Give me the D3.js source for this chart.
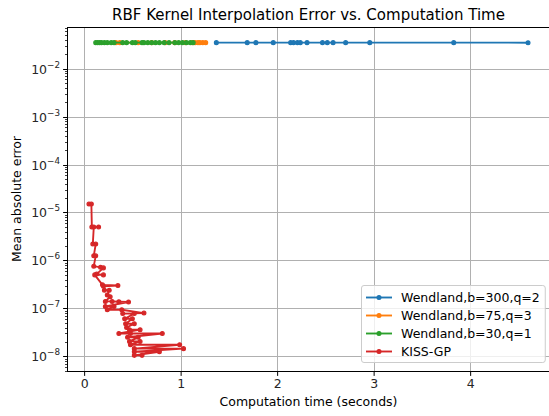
<!DOCTYPE html>
<html>
<head>
<meta charset="utf-8">
<script src="https://cdn.jsdelivr.net/npm/d3@7"></script>
<style>
  html, body { margin: 0; padding: 0; background: #fff; }
  svg { display: block; font-family: "DejaVu Sans", sans-serif; }
</style>
</head>
<body>
<svg id="chart" width="549" height="416"></svg>
<script>
// Timing runs (seconds) and mean absolute error per method
const seriesNames = ["Wendland,b=300,q=2", "Wendland,b=75,q=3", "Wendland,b=30,q=1", "KISS-GP"];
const seriesColors = ["#1f77b4", "#ff7f0e", "#2ca02c", "#d62728"];

const wendland300Time = [1.37, 1.69, 1.78, 1.96, 2.14, 2.17, 2.21, 2.24, 2.31, 2.47, 2.52, 2.58, 2.71, 2.96, 3.83, 4.60];
const wendland300Err  = [0.0348, 0.0348, 0.0348, 0.0348, 0.0348, 0.0348, 0.0348, 0.0348, 0.0348, 0.0348, 0.0348, 0.0348, 0.0348, 0.0348, 0.0348, 0.0347];

const wendland75Time = [0.33, 0.37, 0.56, 0.70, 0.84, 0.94, 1.05, 1.12, 1.15, 1.18, 1.20, 1.23, 1.26];
const wendland75Err  = [0.0348, 0.0348, 0.0348, 0.0348, 0.0348, 0.0348, 0.0348, 0.0348, 0.0348, 0.0348, 0.0348, 0.0348, 0.0348];

const wendland30Time = [0.12, 0.14, 0.16, 0.18, 0.21, 0.24, 0.28, 0.31, 0.40, 0.44, 0.50, 0.53, 0.60, 0.62, 0.66, 0.70, 0.74, 0.78, 0.83, 0.88, 0.94, 0.98, 1.02, 1.06, 1.10, 1.13];
const wendland30Err  = [0.0348, 0.0348, 0.0348, 0.0348, 0.0348, 0.0348, 0.0348, 0.0348, 0.0348, 0.0348, 0.0348, 0.0348, 0.0348, 0.0348, 0.0348, 0.0348, 0.0348, 0.0348, 0.0348, 0.0348, 0.0348, 0.0348, 0.0348, 0.0348, 0.0348, 0.0348];

const kissTime = [0.05, 0.075, 0.08, 0.15, 0.10, 0.09, 0.12, 0.10, 0.12, 0.10, 0.17, 0.20, 0.13, 0.20, 0.11, 0.19, 0.35, 0.20, 0.21, 0.26, 0.24, 0.27, 0.22, 0.29, 0.36, 0.46, 0.22, 0.31, 0.24, 0.39, 0.62, 0.40, 0.52, 0.42, 0.50, 0.43, 0.52, 0.44, 0.47, 0.58, 0.36, 0.48, 0.81, 0.45, 0.56, 0.47, 0.58, 0.48, 0.99, 0.52, 1.03, 0.52, 0.78, 0.52, 0.60];
const kissErr  = [1.5e-5, 1.5e-5, 5.0e-6, 5.0e-6, 5.0e-6, 2.2e-6, 2.2e-6, 1.25e-6, 1.25e-6, 7.6e-7, 7.2e-7, 7.0e-7, 5.2e-7, 5.0e-7, 5.0e-7, 3.1e-7, 3.0e-7, 2.9e-7, 2.4e-7, 2.4e-7, 1.9e-7, 1.75e-7, 1.4e-7, 1.4e-7, 1.38e-7, 1.36e-7, 1.1e-7, 1.1e-7, 9.4e-8, 9.4e-8, 8.0e-8, 7.8e-8, 7.8e-8, 6.1e-8, 6.1e-8, 4.8e-8, 4.8e-8, 4.0e-8, 3.6e-8, 3.6e-8, 3.0e-8, 3.0e-8, 3.0e-8, 2.5e-8, 2.5e-8, 2.05e-8, 2.05e-8, 1.75e-8, 1.75e-8, 1.45e-8, 1.45e-8, 1.25e-8, 1.25e-8, 1.05e-8, 1.05e-8];

const xTickValues = [0, 1, 2, 3, 4];
const yTickExponents = [-8, -7, -6, -5, -4, -3, -2];

const titleText = "RBF Kernel Interpolation Error vs. Computation Time";
const xLabelText = "Computation time (seconds)";
const yLabelText = "Mean absolute error";

const series = [
  { name: seriesNames[0], color: seriesColors[0], t: wendland300Time, e: wendland300Err },
  { name: seriesNames[1], color: seriesColors[1], t: wendland75Time, e: wendland75Err },
  { name: seriesNames[2], color: seriesColors[2], t: wendland30Time, e: wendland30Err },
  { name: seriesNames[3], color: seriesColors[3], t: kissTime, e: kissErr }
].map(s => ({ ...s, pts: s.t.map((t, i) => [t, s.e[i]]) }));

const svg = d3.select("#chart");
const m = { left: 67, right: 550, top: 27, bottom: 371 };
const FS = 12.5;        // tick / label font size
const LW = 1.875;       // series line width
const MR = 1.9;         // marker radius

// Axis limits with 5% padding (log-space padding for y)
const allT = series.flatMap(s => s.t);
const allE = series.flatMap(s => s.e);
const [tMin, tMax] = d3.extent(allT);
const tPad = (tMax - tMin) * 0.05;
const [lMin, lMax] = d3.extent(allE).map(Math.log10);
const lPad = (lMax - lMin) * 0.05;

const x = d3.scaleLinear().domain([tMin - tPad, tMax + tPad]).range([m.left, m.right]);
const y = d3.scaleLog().domain([Math.pow(10, lMin - lPad), Math.pow(10, lMax + lPad)]).range([m.bottom, m.top]);

const clipId = "plotclip";
svg.append("defs").append("clipPath").attr("id", clipId)
  .append("rect").attr("x", m.left).attr("y", m.top)
  .attr("width", m.right - m.left).attr("height", m.bottom - m.top);

// Grid
const grid = svg.append("g").attr("stroke", "#b0b0b0").attr("stroke-width", 1);
xTickValues.forEach(v => {
  const px = Math.round(x(v)) + 0.5;
  grid.append("line").attr("x1", px).attr("x2", px).attr("y1", m.top).attr("y2", m.bottom);
});
yTickExponents.forEach(p => {
  const py = Math.round(y(Math.pow(10, p))) + 0.5;
  grid.append("line").attr("x1", m.left).attr("x2", m.right).attr("y1", py).attr("y2", py);
});

// Series lines and markers
const line = d3.line().x(d => x(d[0])).y(d => y(d[1]));
const plot = svg.append("g").attr("clip-path", `url(#${clipId})`);
series.forEach(s => {
  const g = plot.append("g");
  g.append("path").attr("d", line(s.pts)).attr("fill", "none")
    .attr("stroke", s.color).attr("stroke-width", LW)
    .attr("stroke-linejoin", "round").attr("stroke-linecap", "square");
  g.selectAll("circle").data(s.pts).join("circle")
    .attr("cx", d => x(d[0])).attr("cy", d => y(d[1])).attr("r", MR)
    .attr("fill", s.color).attr("stroke", s.color).attr("stroke-width", 1.25);
});

// Spines
svg.append("rect").attr("x", m.left + 0.5).attr("y", m.top + 0.5)
  .attr("width", m.right - m.left).attr("height", m.bottom - m.top)
  .attr("fill", "none").attr("stroke", "#000").attr("stroke-width", 1);

// X axis ticks and labels
const xAxis = svg.append("g").attr("transform", `translate(0,${m.bottom + 0.5})`)
  .call(d3.axisBottom(x).tickValues(xTickValues).tickFormat(d3.format("d")).tickSize(4.4).tickPadding(3.5));
xAxis.select(".domain").remove();
xAxis.selectAll("text").attr("font-size", FS).attr("fill", "#262626").attr("font-family", "DejaVu Sans");
xAxis.selectAll("line").attr("stroke", "#000").attr("stroke-width", 1);

// Y axis: major ticks with power-of-ten labels, minor ticks 2..9
const yAxisG = svg.append("g");
const [d0, d1] = y.domain();
for (let p = Math.floor(Math.log10(d0)); p <= Math.ceil(Math.log10(d1)); p++) {
  for (let k = 2; k <= 9; k++) {
    const v = k * Math.pow(10, p);
    if (v < d0 || v > d1) continue;
    const py = Math.round(y(v)) + 0.5;
    yAxisG.append("line").attr("x1", m.left + 0.5).attr("x2", m.left + 0.5 - 2.5)
      .attr("y1", py).attr("y2", py).attr("stroke", "#000").attr("stroke-width", 0.75);
  }
}
yTickExponents.forEach(p => {
  const py = Math.round(y(Math.pow(10, p))) + 0.5;
  yAxisG.append("line").attr("x1", m.left + 0.5).attr("x2", m.left + 0.5 - 4.4)
    .attr("y1", py).attr("y2", py).attr("stroke", "#000").attr("stroke-width", 1);
  const t = yAxisG.append("text").attr("x", m.left - 7).attr("y", py + 4.6)
    .attr("text-anchor", "end").attr("font-size", FS).attr("fill", "#262626");
  t.append("tspan").text("10");
  t.append("tspan").attr("dy", -5.8).attr("font-size", 8.8).text("\u2212" + Math.abs(p));
});

// Titles
svg.append("text").attr("x", (m.left + m.right) / 2).attr("y", 20)
  .attr("text-anchor", "middle").attr("font-size", 15).attr("fill", "#000").text(titleText);
svg.append("text").attr("x", (m.left + m.right) / 2).attr("y", 406)
  .attr("text-anchor", "middle").attr("font-size", FS).attr("fill", "#000").text(xLabelText);
svg.append("text").attr("transform", `translate(21,${(m.top + m.bottom) / 2}) rotate(-90)`)
  .attr("text-anchor", "middle").attr("font-size", FS).attr("fill", "#000").text(yLabelText);

// Legend (lower right)
const lg = svg.append("g");
const lgX0 = 361, lgY0 = 285, lgRow = 18;
const frame = lg.append("rect");
let textRight = 0;
series.forEach((s, i) => {
  const cy = lgY0 + 12.5 + i * lgRow;
  lg.append("line").attr("x1", 366).attr("x2", 392).attr("y1", cy).attr("y2", cy)
    .attr("stroke", s.color).attr("stroke-width", LW);
  lg.append("circle").attr("cx", 379).attr("cy", cy).attr("r", MR)
    .attr("fill", s.color).attr("stroke", s.color).attr("stroke-width", 1.25);
  const tx = lg.append("text").attr("x", 401).attr("y", cy + 4.5).attr("font-size", FS)
    .attr("fill", "#000").text(s.name);
  textRight = Math.max(textRight, 401 + tx.node().getComputedTextLength());
});
frame.attr("x", lgX0 + 0.5).attr("y", lgY0 + 0.5)
  .attr("width", textRight + 5 - lgX0).attr("height", lgRow * series.length + 5)
  .attr("rx", 2.5).attr("fill", "#fff").attr("fill-opacity", 0.8)
  .attr("stroke", "#cccccc").attr("stroke-width", 1);
</script>
</body>
</html>
